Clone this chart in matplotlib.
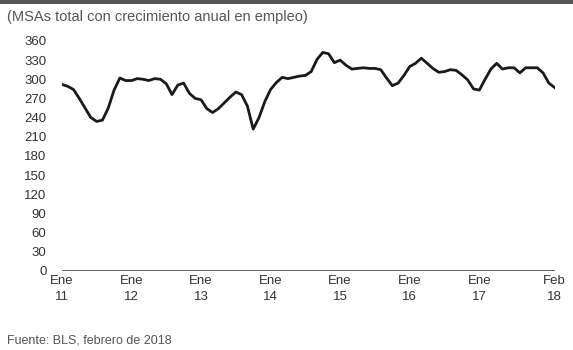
import matplotlib
matplotlib.use("Agg")
import matplotlib.pyplot as plt
from matplotlib.patches import Rectangle

plt.rcParams['font.family'] = ['Liberation Sans', 'DejaVu Sans']

# MSAs con crecimiento anual en empleo, mensual Ene 2011 - Feb 2018
msas = [292, 289, 284, 270, 255, 240, 234, 236, 255, 283, 302, 298,
        298, 301, 300, 298, 301, 300, 293, 276, 291, 294, 278, 270,
        268, 254, 248, 254, 263, 272, 280, 276, 258, 222, 240, 265,
        284, 295, 303, 301, 303, 305, 306, 312, 331, 342, 340, 326,
        330, 322, 316, 317, 318, 317, 317, 315, 302, 290, 294, 306,
        320, 325, 333, 325, 317, 311, 312, 315, 314, 307, 299, 285,
        283, 300, 316, 325, 316, 318, 318, 310, 318, 318, 318, 310,
        294, 287]
tick_pos = [0, 12, 24, 36, 48, 60, 72, 85]
tick_labels = ["Ene\n11", "Ene\n12", "Ene\n13", "Ene\n14", "Ene\n15",
               "Ene\n16", "Ene\n17", "Feb\n18"]
y_ticks = list(range(0, 361, 30))

fig = plt.figure(figsize=(5.73, 3.5), dpi=100)
ax = fig.add_axes([0.108, 0.226, 0.86, 0.657])

ax.plot(range(len(msas)), msas, color="#1a1a1a", lw=2.0, solid_joinstyle="round")
ax.axhline(0, color="#444444", lw=1.2)

ax.set_xlim(0, 85)
ax.set_ylim(0, 360)
ax.set_yticks(y_ticks)
ax.set_xticks(tick_pos)
ax.set_xticklabels(tick_labels, fontsize=9.5, color="#333333", linespacing=1.45)
ax.tick_params(axis="y", labelsize=9.5, labelcolor="#333333", length=0, pad=11)
ax.tick_params(axis="x", length=0, pad=3)
for s in ax.spines.values():
    s.set_visible(False)

# barra superior y textos
fig.add_artist(Rectangle((0, 0.988), 1, 0.012, transform=fig.transFigure,
                         color="#555555", lw=0))
fig.text(0.012, 0.952, "(MSAs total con crecimiento anual en empleo)",
         fontsize=10.5, color="#555555", va="center")
fig.text(0.012, 0.028, "Fuente: BLS, febrero de 2018", fontsize=9,
         color="#555555", va="center")

plt.savefig("out.png", dpi=100)
